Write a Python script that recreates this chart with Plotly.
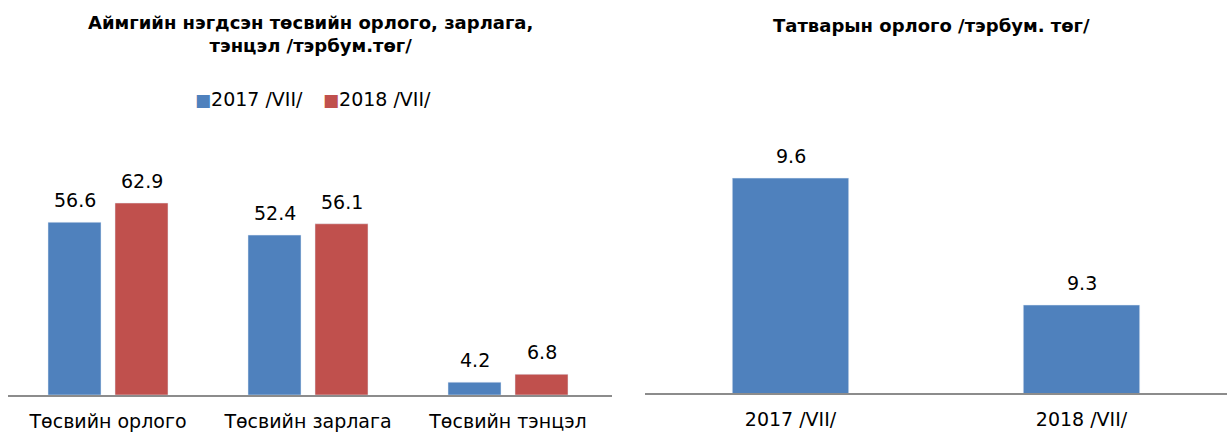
import plotly.graph_objects as go

categories = ["Төсвийн орлого", "Төсвийн зарлага", "Төсвийн тэнцэл"]
series_2017 = [56.6, 52.4, 4.2]
series_2018 = [62.9, 56.1, 6.8]
series_names = ["2017 /VII/", "2018 /VII/"]

tax_categories = ["2017 /VII/", "2018 /VII/"]
tax_values = [9.6, 9.3]

BLUE = "#4F81BD"
RED = "#C0504D"
FONT = "DejaVu Sans, Liberation Sans, Arial, sans-serif"

W, H = 1227, 435
B = 40
PH = H - B  # plot height in px

fig = go.Figure()
fig.add_trace(go.Bar(x=categories, y=series_2017, name=series_names[0], marker_color=BLUE,
                     xaxis="x", yaxis="y", showlegend=False))
fig.add_trace(go.Bar(x=categories, y=series_2018, name=series_names[1], marker_color=RED,
                     xaxis="x", yaxis="y", showlegend=False))
fig.add_trace(go.Bar(x=tax_categories, y=tax_values, name="tax", marker_color=BLUE,
                     showlegend=False, xaxis="x2", yaxis="y2", width=0.40))

annotations = []
off = 0.3 / 2 + 0.0175
for i, (a, b) in enumerate(zip(series_2017, series_2018)):
    annotations.append(dict(x=i - off, y=a, xref="x", yref="y", text=f"{a:.1f}",
                            showarrow=False, yanchor="bottom", yshift=9,
                            font=dict(size=19, family=FONT, color="#000")))
    annotations.append(dict(x=i + off, y=b, xref="x", yref="y", text=f"{b:.1f}",
                            showarrow=False, yanchor="bottom", yshift=9,
                            font=dict(size=19, family=FONT, color="#000")))
for i, v in enumerate(tax_values):
    annotations.append(dict(x=i, y=v, xref="x2", yref="y2", text=f"{v:.1f}",
                            showarrow=False, yanchor="bottom", yshift=9,
                            font=dict(size=19, family=FONT, color="#000")))

annotations += [
    dict(text="<b>Аймгийн нэгдсэн төсвийн орлого, зарлага,<br>тэнцэл /тэрбум.төг/</b>",
         x=310 / W, y=(PH - 34) / PH, xref="paper", yref="paper",
         xanchor="center", yanchor="middle", showarrow=False,
         font=dict(size=18, family=FONT, color="#000"), align="center"),
    dict(text="<b>Татварын орлого /тэрбум. төг/</b>",
         x=932 / W, y=(PH - 25) / PH, xref="paper", yref="paper",
         xanchor="center", yanchor="middle", showarrow=False,
         font=dict(size=18, family=FONT, color="#000")),
    dict(text=f"<span style='color:{BLUE};font-size:17px'>■</span>{series_names[0]}",
         x=193 / W, y=(PH - 99) / PH, xref="paper", yref="paper",
         xanchor="left", yanchor="middle", showarrow=False,
         font=dict(size=19, family=FONT, color="#000")),
    dict(text=f"<span style='color:{RED};font-size:17px'>■</span>{series_names[1]}",
         x=321 / W, y=(PH - 99) / PH, xref="paper", yref="paper",
         xanchor="left", yanchor="middle", showarrow=False,
         font=dict(size=19, family=FONT, color="#000")),
]

fig.update_layout(
    width=W, height=H,
    margin=dict(l=0, r=0, t=0, b=B),
    paper_bgcolor="white", plot_bgcolor="white",
    font=dict(family=FONT, color="#000"),
    barmode="group", bargap=0.33, bargroupgap=0.209,
    showlegend=False,
    xaxis=dict(domain=[8 / W, 612 / W], anchor="y", showline=True, linecolor="#8c8c8c",
               linewidth=1.5, ticks="", tickfont=dict(size=19), showgrid=False,
               ticklabelstandoff=8, range=[-0.5, 2.52]),
    yaxis=dict(domain=[0, 1], anchor="x", range=[0, PH / 3.052], visible=False,
               showgrid=False, zeroline=False),
    xaxis2=dict(domain=[645 / W, 1.0], anchor="y2", showline=True, linecolor="#8c8c8c",
                linewidth=1.5, ticks="", tickfont=dict(size=19), showgrid=False,
                ticklabelstandoff=8, range=[-0.5, 1.5]),
    yaxis2=dict(domain=[2 / PH, 1], anchor="x2",
                range=[9.092, 9.092 + (PH - 2) / 423], visible=False,
                showgrid=False, zeroline=False),
    annotations=annotations,
)

fig.write_html("out.html", config={"displayModeBar": False},
               post_script="document.body.style.margin='0';document.body.style.overflow='hidden';")
